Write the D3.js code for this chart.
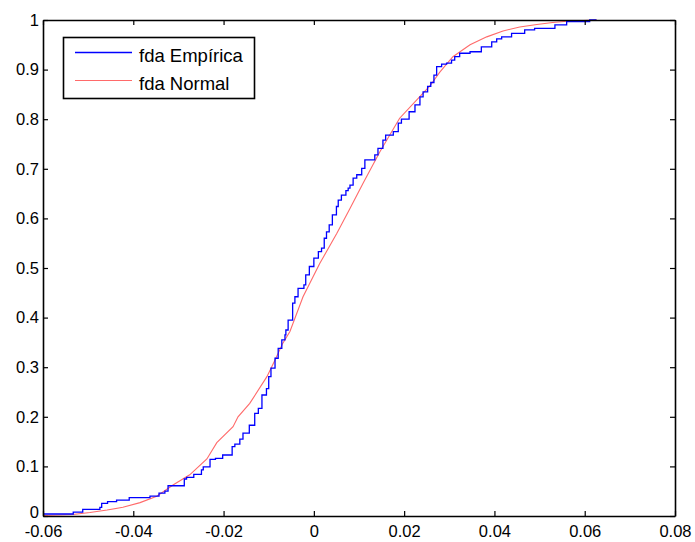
<!DOCTYPE html>
<html>
<head>
<meta charset="utf-8">
<script src="https://cdn.jsdelivr.net/npm/d3@7/dist/d3.min.js"></script>
<style>
  html, body { margin: 0; padding: 0; background: #fff; }
  svg { display: block; }
  text { font-family: "Liberation Sans", Arial, sans-serif; fill: #000; }
</style>
</head>
<body>
<script>
// ---- data ----
const xTicks = [-0.06, -0.04, -0.02, 0, 0.02, 0.04, 0.06, 0.08];
const xTickLabels = ["-0.06", "-0.04", "-0.02", "0", "0.02", "0.04", "0.06", "0.08"];
const yTicks = [0, 0.1, 0.2, 0.3, 0.4, 0.5, 0.6, 0.7, 0.8, 0.9, 1];
const yTickLabels = ["0", "0.1", "0.2", "0.3", "0.4", "0.5", "0.6", "0.7", "0.8", "0.9", "1"];
const seriesNames = ["fda Empírica", "fda Normal"];

// empirical CDF: x at which the step occurs, and the level after the step
const ecdfX = [-0.0600, -0.0533, -0.0512, -0.0474, -0.0470, -0.0457, -0.0437, -0.0409,
  -0.0363, -0.0343, -0.0330, -0.0323, -0.0287, -0.0282, -0.0266, -0.0249, -0.0245,
  -0.0230, -0.0218, -0.0202, -0.0181, -0.0175, -0.0164, -0.0157, -0.0143, -0.0131,
  -0.0123, -0.0115, -0.0105, -0.0100, -0.0095, -0.0086, -0.0079, -0.0071, -0.0064,
  -0.0062, -0.0057, -0.0047, -0.0042, -0.0035, -0.0022, -0.0018, -0.0010, 0.0000,
  0.0010, 0.0017, 0.0023, 0.0028, 0.0034, 0.0041, 0.0050, 0.0054, 0.0061, 0.0071,
  0.0076, 0.0080, 0.0087, 0.0095, 0.0106, 0.0113, 0.0135, 0.0142, 0.0153, 0.0159,
  0.0176, 0.0187, 0.0194, 0.0211, 0.0224, 0.0235, 0.0242, 0.0252, 0.0259, 0.0266,
  0.0272, 0.0283, 0.0294, 0.0305, 0.0312, 0.0323, 0.0346, 0.0371, 0.0394, 0.0405,
  0.0416, 0.0438, 0.0467, 0.0489, 0.0534, 0.0560, 0.0611, 0.0626];
const ecdfY = [0.004, 0.008, 0.0135, 0.0175, 0.0256, 0.029, 0.032, 0.037,
  0.040, 0.046, 0.050, 0.061, 0.0746, 0.078, 0.084, 0.093, 0.099,
  0.114, 0.116, 0.123, 0.140, 0.145, 0.155, 0.167, 0.183, 0.207,
  0.217, 0.244, 0.257, 0.281, 0.298, 0.318, 0.338, 0.355, 0.365,
  0.375, 0.395, 0.429, 0.442, 0.459, 0.466, 0.486, 0.503, 0.520,
  0.533, 0.540, 0.560, 0.573, 0.587, 0.607, 0.624, 0.637, 0.647, 0.656,
  0.661, 0.667, 0.681, 0.688, 0.701, 0.718, 0.728, 0.741, 0.758, 0.768,
  0.775, 0.792, 0.800, 0.815, 0.829, 0.845, 0.855, 0.866, 0.874, 0.889,
  0.906, 0.911, 0.913, 0.919, 0.926, 0.933, 0.936, 0.946, 0.956, 0.962,
  0.966, 0.973, 0.980, 0.983, 0.990, 0.997, 1.000, 1.000];

// fitted normal CDF
const normX = [-0.0600, -0.0534, -0.0496, -0.0458, -0.0423, -0.0385, -0.0348, -0.0312,
  -0.0275, -0.0237, -0.0215, -0.0179, -0.0168, -0.0142, -0.0104, -0.0086, -0.0069,
  -0.0053, -0.0024, 0.0013, 0.0051, 0.0080, 0.0109, 0.0146, 0.0190, 0.0228, 0.0257,
  0.0279, 0.0308, 0.0346, 0.0383, 0.0419, 0.0456, 0.0494, 0.0529, 0.0567, 0.0627];
const normY = [0.001, 0.003, 0.007, 0.012, 0.0175, 0.027, 0.040, 0.0625,
  0.083, 0.115, 0.148, 0.180, 0.200, 0.227, 0.281, 0.3145, 0.348,
  0.372, 0.442, 0.509, 0.570, 0.620, 0.671, 0.734, 0.802, 0.839, 0.867,
  0.895, 0.926, 0.950, 0.966, 0.978, 0.986, 0.991, 0.995, 0.998, 1.000];

// ---- chart ----
const W = 695, H = 542;
const mLeft = 43, mRight = 675, mTop = 20, mBottom = 516;

const svg = d3.select("body").append("svg").attr("width", W).attr("height", H);

const x = d3.scaleLinear().domain([-0.06, 0.08]).range([mLeft, mRight]);
const y = d3.scaleLinear().domain([0, 1]).range([mBottom, mTop]);

const ecdf = ecdfX.map((v, i) => [v, ecdfY[i]]);
const norm = normX.map((v, i) => [v, normY[i]]);

const g = svg.append("g");

// series
g.append("path").datum(norm)
  .attr("fill", "none").attr("stroke", "#ff6a6a").attr("stroke-width", 1.1)
  .attr("d", d3.line().x(d => x(d[0])).y(d => y(d[1])));

g.append("path").datum(ecdf)
  .attr("fill", "none").attr("stroke", "#0000ff").attr("stroke-width", 1.3)
  .attr("d", d3.line().curve(d3.curveStepAfter).x(d => x(d[0])).y(d => y(d[1])));

// axes (ticks pointing inward, box on all sides)
const tickLen = 5;
const fmtX = (d, i) => xTickLabels[i];
const fmtY = (d, i) => yTickLabels[i];

const axB = d3.axisBottom(x).tickValues(xTicks).tickFormat(fmtX).tickSizeInner(-tickLen).tickSizeOuter(0).tickPadding(9);
const axT = d3.axisTop(x).tickValues(xTicks).tickFormat("").tickSizeInner(-tickLen).tickSizeOuter(0);
const axL = d3.axisLeft(y).tickValues(yTicks).tickFormat(fmtY).tickSizeInner(-tickLen).tickSizeOuter(0).tickPadding(4);
const axR = d3.axisRight(y).tickValues(yTicks).tickFormat("").tickSizeInner(-tickLen).tickSizeOuter(0);

function style(sel) {
  sel.select(".domain").attr("stroke", "#000").attr("stroke-width", 1.6);
  sel.selectAll(".tick line").attr("stroke", "#000").attr("stroke-width", 1.2);
  sel.selectAll(".tick text").attr("font-size", 16.5).attr("fill", "#000")
    .attr("font-family", "\"Liberation Sans\", Arial, sans-serif");
}

svg.append("g").attr("transform", `translate(0,${mBottom})`).call(axB).call(style);
svg.append("g").attr("transform", `translate(0,${mTop})`).call(axT).call(style);
svg.append("g").attr("transform", `translate(${mLeft},0)`).call(axL).call(style)
  .selectAll(".tick text").attr("dy", (d, i) => i === 0 ? "0.12em" : "0.32em");
svg.append("g").attr("transform", `translate(${mRight},0)`).call(axR).call(style);

// legend
const lg = svg.append("g");
lg.append("rect").attr("x", 63.5).attr("y", 37.5).attr("width", 191).attr("height", 61)
  .attr("fill", "#fff").attr("stroke", "#000").attr("stroke-width", 1.6);
const legendColors = ["#0000ff", "#ff6a6a"];
const legendY = [52.5, 80.5];
seriesNames.forEach((name, i) => {
  lg.append("line").attr("x1", 75).attr("x2", 132).attr("y1", legendY[i]).attr("y2", legendY[i])
    .attr("stroke", legendColors[i]).attr("stroke-width", i === 0 ? 1.3 : 1.1);
  lg.append("text").attr("x", 139).attr("y", legendY[i] + 9.5)
    .attr("font-size", 18.5).text(name);
});
</script>
</body>
</html>
